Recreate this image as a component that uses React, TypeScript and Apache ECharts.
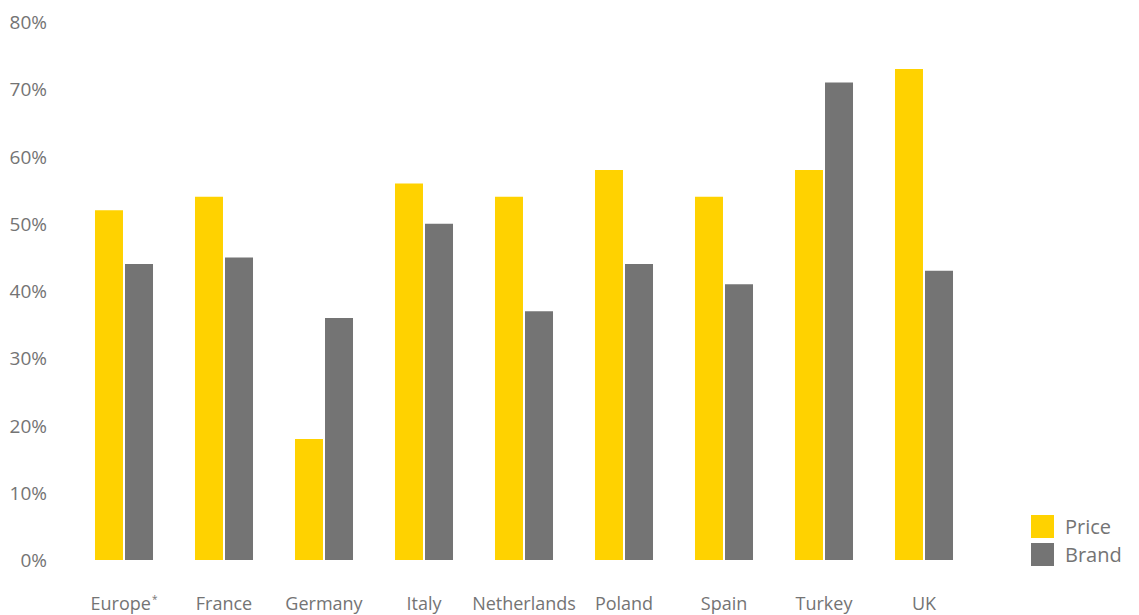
import React, { useEffect, useRef } from "react";
import * as echarts from "echarts";

const categories = ["Europe*", "France", "Germany", "Italy", "Netherlands", "Poland", "Spain", "Turkey", "UK"];
const priceValues = [52, 54, 18, 56, 54, 58, 54, 58, 73];
const brandValues = [44, 45, 36, 50, 37, 44, 41, 71, 43];
const seriesNames = ["Price", "Brand"];
const yTicks = { min: 0, max: 80, interval: 10 };

const YELLOW = "#FFD200";
const GREY = "#747474";
const TEXT = "#747474";
const FONT = "'Open Sans', sans-serif";

export default function App() {
  const ref = useRef<HTMLDivElement>(null);
  useEffect(() => {
    if (!ref.current) return;
    const chart = echarts.init(ref.current, undefined, { renderer: "svg" });
    chart.setOption({
      animation: false,
      backgroundColor: "#ffffff",
      textStyle: { fontFamily: FONT },
      grid: { left: 74, right: 165, top: 22, bottom: 55, containLabel: false },
      legend: {
        orient: "vertical",
        left: 1031,
        top: 515,
        padding: 0,
        itemWidth: 23,
        itemHeight: 23,
        itemGap: 5,
        icon: "rect",
        data: seriesNames,
        textStyle: { color: TEXT, fontSize: 20, fontFamily: FONT, padding: [0, 0, 0, 6] },
      },
      xAxis: {
        type: "category",
        data: categories,
        axisLine: { show: false },
        axisTick: { show: false },
        axisLabel: {
          color: TEXT,
          fontSize: 18,
          fontFamily: FONT,
          margin: 34,
          interval: 0,
          formatter: (v: string) => (v.endsWith("*") ? `${v.slice(0, -1)}{sup|*}` : v),
          rich: {
            sup: { fontSize: 10, color: TEXT, fontFamily: FONT, verticalAlign: "top", padding: [0, 0, 8, 1] },
          },
        },
      },
      yAxis: {
        type: "value",
        min: yTicks.min,
        max: yTicks.max,
        interval: yTicks.interval,
        axisLine: { show: false },
        axisTick: { show: false },
        splitLine: { show: false },
        axisLabel: {
          color: TEXT,
          fontSize: 19,
          fontFamily: FONT,
          margin: 27,
          formatter: (v: number) => `${v}%`,
        },
      },
      series: [
        {
          name: seriesNames[0],
          type: "bar",
          data: priceValues,
          barWidth: 28,
          barGap: "7.2%",
          itemStyle: { color: YELLOW },
        },
        {
          name: seriesNames[1],
          type: "bar",
          data: brandValues,
          barWidth: 28,
          barGap: "7.2%",
          itemStyle: { color: GREY },
        },
      ],
    });
    return () => chart.dispose();
  }, []);
  return (
    <div
      ref={ref}
      style={{ position: "absolute", left: 0, top: 0, width: 1139, height: 615 }}
    />
  );
}
